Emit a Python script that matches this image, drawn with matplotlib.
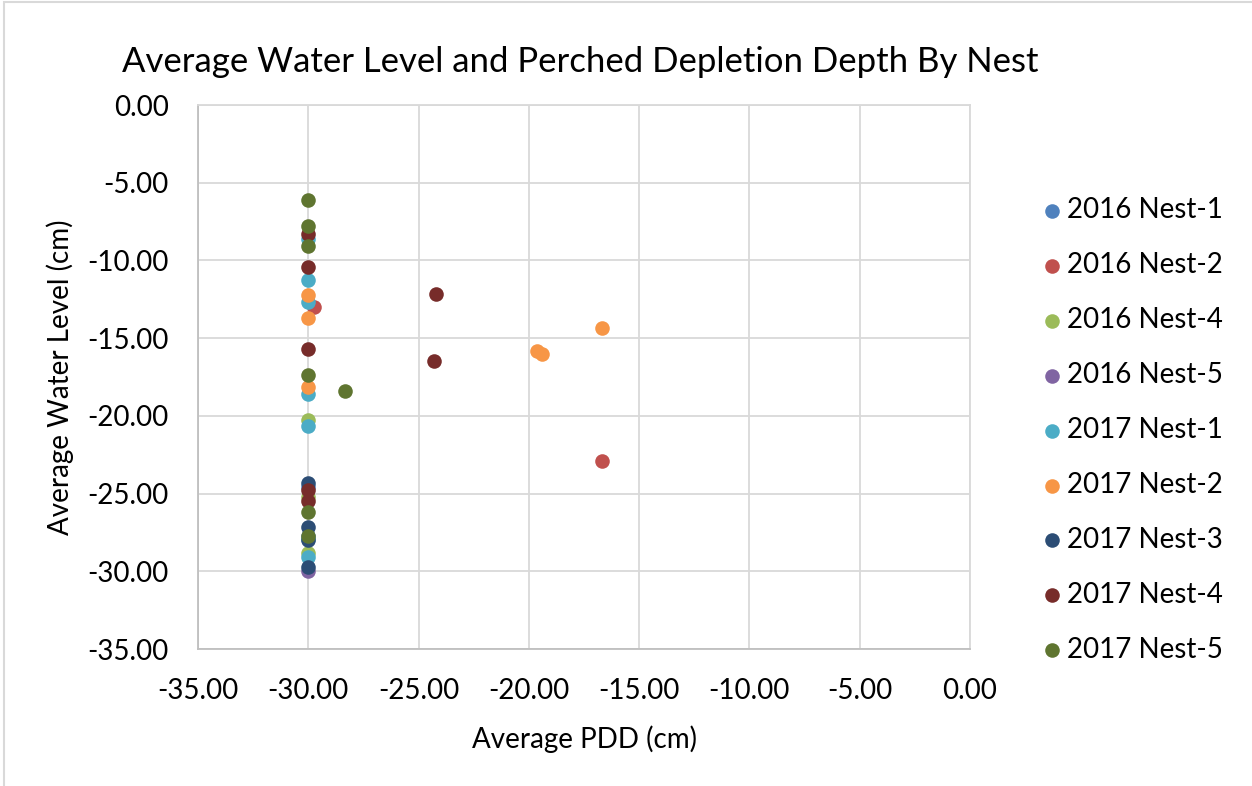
import matplotlib
matplotlib.use("Agg")
import matplotlib.pyplot as plt
from matplotlib.patches import Rectangle

plt.rcParams['font.family'] = ['Lato', 'DejaVu Sans']

# series names and colours (Excel palette)
names = ['2016 Nest-1', '2016 Nest-2', '2016 Nest-4', '2016 Nest-5',
         '2017 Nest-1', '2017 Nest-2', '2017 Nest-3', '2017 Nest-4', '2017 Nest-5']
colors = ['#4F81BD', '#C0504D', '#9BBB59', '#8064A2',
          '#4BACC6', '#F79646', '#2C4D75', '#772C2A', '#5F7530']

# average PDD (x) and average water level (y), cm
pdd_16_n1 = [-30.0, -30.0]
wl_16_n1 = [-27.7, -24.6]
pdd_16_n2 = [-29.73, -16.69]
wl_16_n2 = [-13.0, -22.92]
pdd_16_n4 = [-30.0, -30.0, -30.0]
wl_16_n4 = [-20.27, -25.2, -28.8]
pdd_16_n5 = [-30.0]
wl_16_n5 = [-30.0]
pdd_17_n1 = [-30.0, -30.0, -30.0, -30.0, -30.0, -30.0, -30.0]
wl_17_n1 = [-8.6, -11.24, -12.7, -18.6, -20.63, -27.9, -29.08]
pdd_17_n2 = [-30.0, -30.0, -30.0, -19.65, -19.39, -16.69]
wl_17_n2 = [-12.2, -13.7, -18.16, -15.8, -16.05, -14.33]
pdd_17_n3 = [-30.0, -30.0, -30.0, -30.0]
wl_17_n3 = [-24.35, -27.14, -28.0, -29.7]
pdd_17_n4 = [-30.0, -30.0, -30.0, -30.0, -30.0, -24.21, -24.32]
wl_17_n4 = [-8.3, -10.4, -15.7, -24.8, -25.5, -12.19, -16.44]
pdd_17_n5 = [-30.0, -30.0, -30.0, -30.0, -28.32, -30.0, -30.0]
wl_17_n5 = [-6.12, -7.8, -9.1, -17.4, -18.42, -26.2, -27.72]

xs = [pdd_16_n1, pdd_16_n2, pdd_16_n4, pdd_16_n5,
      pdd_17_n1, pdd_17_n2, pdd_17_n3, pdd_17_n4, pdd_17_n5]
ys = [wl_16_n1, wl_16_n2, wl_16_n4, wl_16_n5,
      wl_17_n1, wl_17_n2, wl_17_n3, wl_17_n4, wl_17_n5]

fig = plt.figure(figsize=(12.52, 7.86), dpi=100)
ax = fig.add_axes([198 / 1252, 1 - 649 / 786, 772 / 1252, 544 / 786])

for x, y, c, n in zip(xs, ys, colors, names):
    ax.scatter(x, y, s=110, color=c, label=n, zorder=3, linewidths=0)

ax.set_xlim(-35, 0)
ax.set_ylim(-35, 0)
ax.set_xticks(range(-35, 1, 5))
ax.set_yticks(range(-35, 1, 5))
ax.xaxis.set_major_formatter(lambda v, p: f"{v:.2f}")
ax.yaxis.set_major_formatter(lambda v, p: f"{v:.2f}")
ax.tick_params(length=0, labelsize=20)
ax.tick_params(axis='x', pad=21)
ax.tick_params(axis='y', pad=21)
ax.grid(True, color='#d9d9d9', linewidth=1.3, zorder=0)
ax.set_axisbelow(True)
for side in ['top', 'right']:
    ax.spines[side].set_color('#d9d9d9')
for side in ['left', 'bottom']:
    ax.spines[side].set_color('#bfbfbf')
for s in ax.spines.values():
    s.set_linewidth(1.3)

ax.set_xlabel('Average PDD (cm)', fontsize=20, labelpad=15)
ax.set_ylabel('Average Water Level (cm)', fontsize=20, labelpad=10)
fig.text(580 / 1252, 1 - 62 / 786, 'Average Water Level and Perched Depletion Depth By Nest',
         ha='center', va='center', fontsize=25)

leg = ax.legend(loc='center left', bbox_to_anchor=(1.077, 0.4026), frameon=False,
                fontsize=20, markerscale=1.0, handletextpad=0.15, labelspacing=1.04,
                handlelength=0.8, borderaxespad=0)

fig.patches.append(Rectangle((4 / 1252, -0.01), 1.0, 1.008, transform=fig.transFigure,
                             fill=False, edgecolor='#d9d9d9', linewidth=1.5))

fig.savefig('out.png', dpi=100)
